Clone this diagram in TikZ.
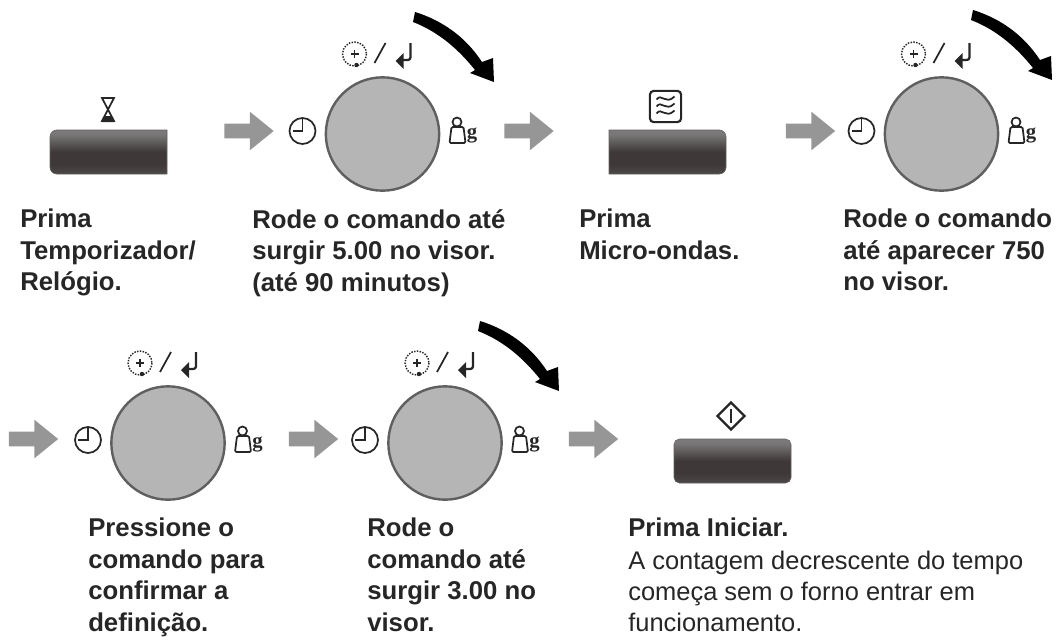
\documentclass[tikz,border=0pt]{standalone}
\usepackage{fontspec}
\setmainfont{Liberation Sans}
\newfontfamily\gramfont{Liberation Serif}
\usetikzlibrary{
    shapes.geometric,
    shapes.arrows,
    arrows.meta,
    positioning,
    calc
}
\definecolor{knobgray}{RGB}{181, 181, 181}
\definecolor{knobedge}{RGB}{95, 95, 95}
\definecolor{flowgray}{RGB}{150, 150, 150}
\definecolor{keytop}{RGB}{140, 140, 140}
\definecolor{keymid}{RGB}{62, 56, 56}
\definecolor{keybot}{RGB}{110, 110, 110}
\definecolor{inkgray}{RGB}{38, 38, 38}
\pgfdeclareverticalshading{keyshade}{100bp}{
    color(0bp)=(keybot); color(36bp)=(keymid); color(50bp)=(keymid);
    color(70bp)=(keytop!75!keymid); color(100bp)=(keytop)}

\tikzset{
    flow/.style={single arrow, fill=flowgray, inner sep=0pt, single arrow head extend=9pt,
        single arrow tip angle=78, minimum height=37pt, minimum width=28.5pt, outer sep=0pt,
        text height=10.5pt, text width=0pt},
    knob/.style={circle, draw=knobedge, fill=knobgray, line width=1.8pt, minimum size=85pt, inner sep=0pt},
    keybtn/.style={shading=keyshade, draw=keymid!80, line width=0.4pt},
    hint/.style={font=\fontsize{19.3pt}{23.6pt}\selectfont\bfseries, align=left, anchor=north west, inner sep=0pt, text=inkgray},
    plain/.style={font=\fontsize{19.1pt}{23pt}\selectfont, align=left, anchor=north west, inner sep=0pt, text=inkgray},
    glyph/.style={draw=inkgray, line width=1.3pt},
    turn/.pic={
        \fill[black] (0,0) .. controls (26,8) and (50,24) .. (67,50) -- (78,46) -- (79,70)
            -- (55,61) -- (60,58) .. controls (44,38) and (24,20) .. (-2,10) -- cycle;
    },
    knobmarks/.pic={
        % clock on the left
        \draw[glyph] (-80,-3) circle (13);
        \draw[glyph] (-80,-15) -- (-80,-3) -- (-90,-3);
        % dial sign and return arrow on top
        \draw[glyph, line width=1.1pt, densely dotted] (-28,-80) circle (12);
        \draw[glyph, line width=0.8pt] (-32,-80) -- (-24,-80) (-28,-84) -- (-28,-76);
        \fill[inkgray] (-26,-69) circle (2.2);
        \draw[glyph] (-8,-71) -- (3,-91);
        \draw[glyph, line width=1.7pt, rounded corners=2pt] (28,-91) -- (28,-74) -- (18,-74);
        \fill[inkgray] (13,-73) -- (21,-81) -- (21,-65) -- cycle;
        % weight on the right
        \draw[glyph, rounded corners=1pt] (69,-7) -- (81,-7) -- (83,9) -- (67,9) -- cycle;
        \draw[glyph] (74.5,-12) circle (4.5);
        \node[font=\fontsize{15.5pt}{15.5pt}\selectfont\bfseries\gramfont, text=inkgray, anchor=west, inner sep=0pt] (-gram) at (84,1) {g};
    }
}

\begin{document}
\begin{tikzpicture}[x=0.75pt, y=-0.75pt]
    \useasboundingbox (0,0) rectangle (1062,640);

    % Knobs
    \node[knob] (timeknob) at (382.5,134) {};
    \node[knob] (powerknob) at (941.5,134) {};
    \node[knob] (pressknob) at (168,443) {};
    \node[knob] (delayknob) at (445,443) {};
    \pic (timemarks) at (timeknob) {knobmarks};
    \pic (powermarks) at (powerknob) {knobmarks};
    \pic (pressmarks) at (pressknob) {knobmarks};
    \pic (delaymarks) at (delayknob) {knobmarks};

    % Turning arrows
    \pic at (415,12) {turn};
    \pic at (973,10) {turn};
    \pic at (480,321) {turn};

    % Keys
    \path[keybtn] (167,130) -- (56,130) [rounded corners=5pt] -- (50,130) -- (50,174) [sharp corners] -- (167,174) -- cycle;
    \path[keybtn] (609,130) -- (720,130) [rounded corners=5pt] -- (726,130) -- (726,174) [sharp corners] -- (609,174) -- cycle;
    \path[keybtn, rounded corners=4pt] (674,439) rectangle (791,483);

    % Key symbols
    \coordinate (glass) at (108,109);
    \draw[glyph] ($(glass)+(-6,-11)$) -- ($(glass)+(6,-11)$) -- ($(glass)+(-6,12)$) -- ($(glass)+(6,12)$) -- cycle;
    \fill[inkgray] ($(glass)+(-6,13)$) -- ($(glass)+(-3,7)$) -- ($(glass)+(3,7)$) -- ($(glass)+(6,13)$) -- cycle;
    \node[draw=inkgray, line width=1.6pt, rounded corners=3pt, minimum size=23.5pt, inner sep=0pt] (wavekey) at (665.5,106.5) {};
    \foreach \yy in {-7,0,7}
        \draw[glyph] ($(wavekey)+(-9,\yy)$) .. controls ($(wavekey)+(-4,\yy-7)$) and ($(wavekey)+(0,\yy+6)$) .. ($(wavekey)+(9,\yy-3)$);
    \node[diamond, draw=inkgray, line width=1.7pt, minimum size=21pt, inner sep=0pt] (startkey) at (731,416) {};
    \draw[glyph, line width=1.8pt] ($(startkey)+(0,-7)$) -- ($(startkey)+(0,7)$);

    % Flow arrows
    \node[flow] (flowa) at (244.5,131) {};
    \node[flow] (flowb) at (524.5,131) {};
    \node[flow] (flowc) at (806,131) {};
    \node[flow] (flowd) at (29,439) {};
    \node[flow] (flowe) at (309,439) {};
    \node[flow] (flowf) at (589,439) {};

    % Captions
    \node[hint] (capa) at (20,209) {Prima\\Temporizador/\\Relógio.};
    \node[hint] (capb) at (252,209) {Rode o comando até\\surgir 5.00 no visor.\\(até 90 minutos)};
    \node[hint] (capc) at (579,209) {Prima\\Micro-ondas.};
    \node[hint] (capd) at (843,209) {Rode o comando\\até aparecer 750\\no visor.};
    \node[hint] (cape) at (88,518) {Pressione o\\comando para\\confirmar a\\definição.};
    \node[hint] (capf) at (367,518) {Rode o\\comando até\\surgir 3.00 no\\visor.};
    \node[hint] (capg) at (628,518) {Prima Iniciar.};
    \node[plain] (caph) at (628,551) {A contagem decrescente do tempo\\começa sem o forno entrar em\\funcionamento.};
\end{tikzpicture}
\end{document}
